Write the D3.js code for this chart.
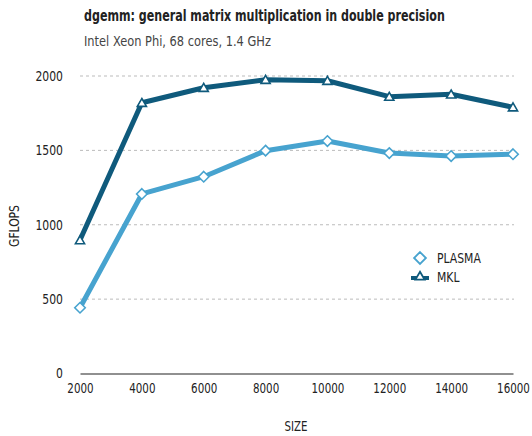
<!DOCTYPE html>
<html><head><meta charset="utf-8">
<script src="https://cdn.jsdelivr.net/npm/d3@7"></script>
<style>
body{margin:0;background:#fff;}
text{font-family:"DejaVu Sans Condensed","DejaVu Sans",sans-serif;fill:#222;}
</style></head>
<body><svg id="c" width="532" height="436"></svg>
<script>
const sizes = [2000, 4000, 6000, 8000, 10000, 12000, 14000, 16000];
const plasma = [442, 1207, 1323, 1498, 1563, 1482, 1462, 1474];
const mkl = [897, 1820, 1921, 1975, 1968, 1861, 1877, 1790];
const yTicks = [0, 500, 1000, 1500, 2000];
const seriesNames = ["PLASMA", "MKL"];
const colors = ["#47a3cf", "#0f5a7c"];

const svg = d3.select("#c");
const x = d3.scaleLinear().domain([2000, 16000]).range([80, 513]);
const y = d3.scaleLinear().domain([0, 2000]).range([373.5, 76]);

// place a horizontally condensed text at (px,py) with given target width or factor
function condText(parent, px, py, str, size, opts) {
  const t = parent.append("text").attr("x", 0).attr("y", 0).style("font-size", size + "px").text(str);
  if (opts.bold) t.style("font-weight", "bold");
  if (opts.fill) t.style("fill", opts.fill);
  if (opts.anchor) t.attr("text-anchor", opts.anchor);
  const w = t.node().getComputedTextLength();
  const f = opts.width ? opts.width / w : opts.factor;
  const rot = opts.rotate ? ` rotate(${opts.rotate})` : "";
  t.attr("transform", `translate(${px},${py})${rot} scale(${f},1)`);
  return t;
}

condText(svg, 84, 21, "dgemm: general matrix multiplication in double precision", 15.5, {bold: true, width: 361});
condText(svg, 84, 46, "Intel Xeon Phi, 68 cores, 1.4 GHz", 14, {fill: "#444", width: 187});

// grid
const grid = svg.append("g");
yTicks.filter(d => d > 0).forEach(t => {
  grid.append("line").attr("x1", 80).attr("x2", 514).attr("y1", y(t)).attr("y2", y(t))
    .attr("stroke", "#bbb").attr("stroke-width", 1).attr("stroke-dasharray", "3,3");
});

// y axis labels
const ya = svg.append("g").attr("transform", "translate(69,0)")
  .call(d3.axisLeft(y).tickValues(yTicks).tickSize(0).tickPadding(6).tickFormat(d3.format("d")));
ya.select(".domain").remove();
ya.selectAll("text").style("font-size", "14px").attr("font-family", null).style("fill", "#222")
  .attr("x", -6 / 0.86).attr("transform", "scale(0.86,1)");

// x axis
const xa = svg.append("g").attr("transform", `translate(0,${y(0)})`)
  .call(d3.axisBottom(x).tickValues(sizes).tickSize(0).tickPadding(10).tickFormat(d3.format("d")));
xa.select(".domain").attr("stroke", "#222").attr("stroke-width", 1.2);
xa.selectAll("text").style("font-size", "14px").attr("font-family", null).style("fill", "#222")
  .attr("transform", "scale(0.82,1)");

condText(svg, 19, 226, "GFLOPS", 14, {anchor: "middle", width: 42, rotate: -90});
condText(svg, 296, 431, "SIZE", 14, {anchor: "middle", width: 23});

const line = d3.line().x((d, i) => x(sizes[i])).y(d => y(d));
const dataSets = [plasma, mkl];
const symbols = [d3.symbolDiamond2, d3.symbolTriangle2];

dataSets.forEach((vals, k) => {
  svg.append("path").datum(vals).attr("d", line).attr("fill", "none")
    .attr("stroke", colors[k]).attr("stroke-width", 5).attr("stroke-linejoin", "round");
});
dataSets.forEach((vals, k) => {
  svg.append("g").selectAll("path").data(vals).join("path")
    .attr("transform", (d, i) => `translate(${x(sizes[i])},${y(d) + (k === 1 ? 1 : 0)})`)
    .attr("d", d3.symbol().type(symbols[k]).size(k === 0 ? 70 : 60))
    .attr("fill", "#fff").attr("stroke", colors[k]).attr("stroke-width", 1.6);
});

// legend
const lg = svg.append("g");
seriesNames.forEach((n, k) => {
  const yy = 258 + k * 19;
  if (k === 1) lg.append("line").attr("x1", 411).attr("x2", 429).attr("y1", yy + 1).attr("y2", yy + 1)
    .attr("stroke", colors[k]).attr("stroke-width", 4);
  lg.append("path").attr("transform", `translate(420,${yy})`)
    .attr("d", d3.symbol().type(symbols[k]).size(k === 0 ? 90 : 60))
    .attr("fill", "#fff").attr("stroke", colors[k]).attr("stroke-width", 1.8);
  condText(lg, 437, yy + 5, n, 14, {factor: 0.86});
});
</script></body></html>
